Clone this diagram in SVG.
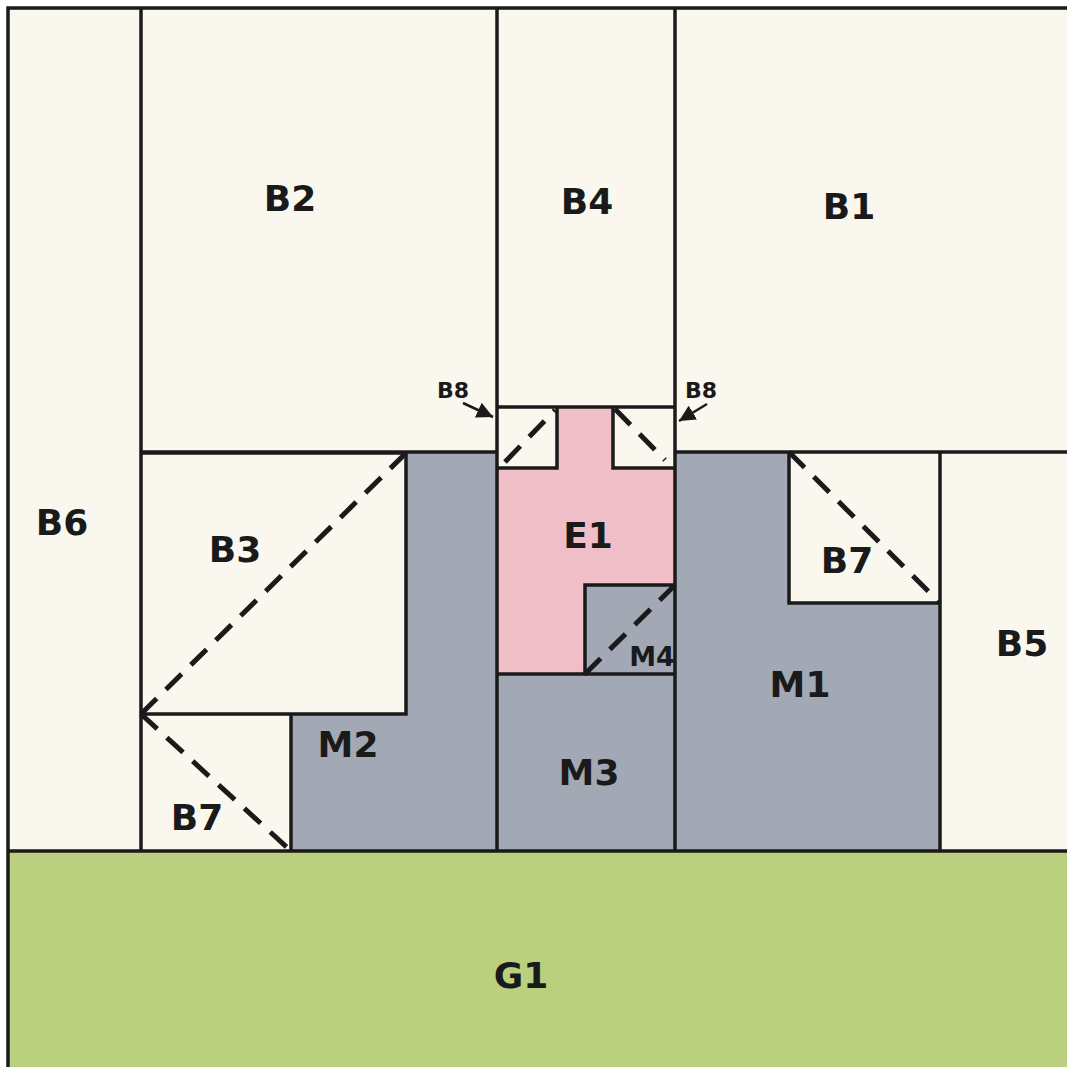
<svg xmlns="http://www.w3.org/2000/svg" width="1067" height="1067" viewBox="0 0 1067 1067">
<style>
.c{fill:#faf7ef}
.g{fill:#a3a8b5}
.p{fill:#f0bec6}
.gr{fill:#bad07f}
.ln{stroke:#1a1a1a;stroke-width:3.5;fill:none}
.ds{stroke:#1a1a1a;stroke-width:5;stroke-dasharray:22 13;fill:none}
.t{font-family:"DejaVu Sans",sans-serif;font-weight:bold;fill:#1a1a1a;text-anchor:middle}
.L{font-size:36px}
.S{font-size:22px}
</style>
<defs>
<marker id="ah" viewBox="0 0 10 10" refX="10" refY="5" markerWidth="6.5" markerHeight="6.5" orient="auto"><path d="M0,0L10,5L0,10z" fill="#1a1a1a"/></marker>
</defs>
<rect x="0" y="0" width="1067" height="1067" fill="#ffffff"/>
<g id="B6"><rect class="c" x="8" y="8" width="133" height="843"/><text class="t L" x="62" y="535">B6</text></g>
<g id="B2"><rect class="c" x="141" y="8" width="356" height="444"/><text class="t L" x="290" y="211">B2</text></g>
<g id="B4"><rect class="c" x="497" y="8" width="178" height="399"/><text class="t L" x="587" y="214">B4</text></g>
<g id="B1"><rect class="c" x="675" y="8" width="392" height="444"/><text class="t L" x="849" y="219">B1</text></g>
<g id="B5"><rect class="c" x="940" y="452" width="127" height="399"/><text class="t L" x="1022" y="656">B5</text></g>
<g id="G1"><rect class="gr" x="8" y="851" width="1059" height="216"/><text class="t L" x="521" y="988">G1</text></g>
<g id="M2"><path class="g" d="M406,452H497V851H291V714H406Z"/><text class="t L" x="348" y="757">M2</text></g>
<g id="M1"><path class="g" d="M675,452H789V603H940V851H675Z"/><text class="t L" x="800" y="697">M1</text></g>
<g id="M3"><rect class="g" x="497" y="674" width="178" height="177"/><text class="t L" x="589" y="785">M3</text></g>
<g id="E1"><path class="p" d="M557,407H613V468H675V585H585V674H497V468H557Z"/><text class="t L" x="588" y="548">E1</text></g>
<g id="M4"><rect class="g" x="585" y="585" width="90" height="89"/><text class="t" font-size="27" x="652" y="666">M4</text></g>
<g id="B3"><rect class="c" x="141" y="453" width="265" height="261"/><text class="t L" x="235" y="562">B3</text></g>
<g id="B7a"><rect class="c" x="141" y="714" width="150" height="137"/><text class="t L" x="197" y="830">B7</text></g>
<g id="B7b"><rect class="c" x="789" y="452" width="151" height="151"/><text class="t L" x="847" y="573">B7</text></g>
<g id="B8a"><rect class="c" x="497" y="407" width="60" height="61"/></g>
<g id="B8b"><rect class="c" x="613" y="407" width="62" height="61"/></g>
<g id="connectors">
<path class="ln" d="M8,1067V8H1067"/>
<line class="ln" x1="8" y1="851" x2="1067" y2="851"/>
<line class="ln" x1="141" y1="8" x2="141" y2="851"/>
<line class="ln" x1="497" y1="8" x2="497" y2="851"/>
<line class="ln" x1="675" y1="8" x2="675" y2="851"/>
<line class="ln" x1="940" y1="452" x2="940" y2="851"/>
<line class="ln" x1="141" y1="452" x2="497" y2="452"/>
<line class="ln" x1="675" y1="452" x2="1067" y2="452"/>
<line class="ln" x1="497" y1="407" x2="675" y2="407"/>
<path class="ln" d="M497,468H557V407M613,407V468H675"/>
<path class="ln" d="M141,453H406V714H141"/>
<path class="ln" d="M291,714V851"/>
<path class="ln" d="M789,452V603H940"/>
<path class="ln" d="M675,585H585V674H497"/>
<line class="ln" x1="585" y1="674" x2="675" y2="674"/>
<line class="ds" x1="141" y1="714" x2="406" y2="453"/>
<line class="ds" x1="141" y1="714" x2="291" y2="851"/>
<line class="ds" x1="789" y1="452" x2="940" y2="603"/>
<line class="ds" x1="585" y1="674" x2="675" y2="585"/>
<line class="ds" x1="505" y1="462" x2="555" y2="410" stroke-dasharray="10 14"/>
<line class="ds" x1="615" y1="409" x2="665" y2="460" stroke-dasharray="10 14"/>
<line stroke="#1a1a1a" stroke-width="2.5" x1="463" y1="403" x2="493" y2="417" marker-end="url(#ah)"/>
<line stroke="#1a1a1a" stroke-width="2.5" x1="707" y1="404" x2="679" y2="421" marker-end="url(#ah)"/>
</g>
<text class="t S" x="453" y="398">B8</text>
<text class="t S" x="701" y="398">B8</text>
</svg>
